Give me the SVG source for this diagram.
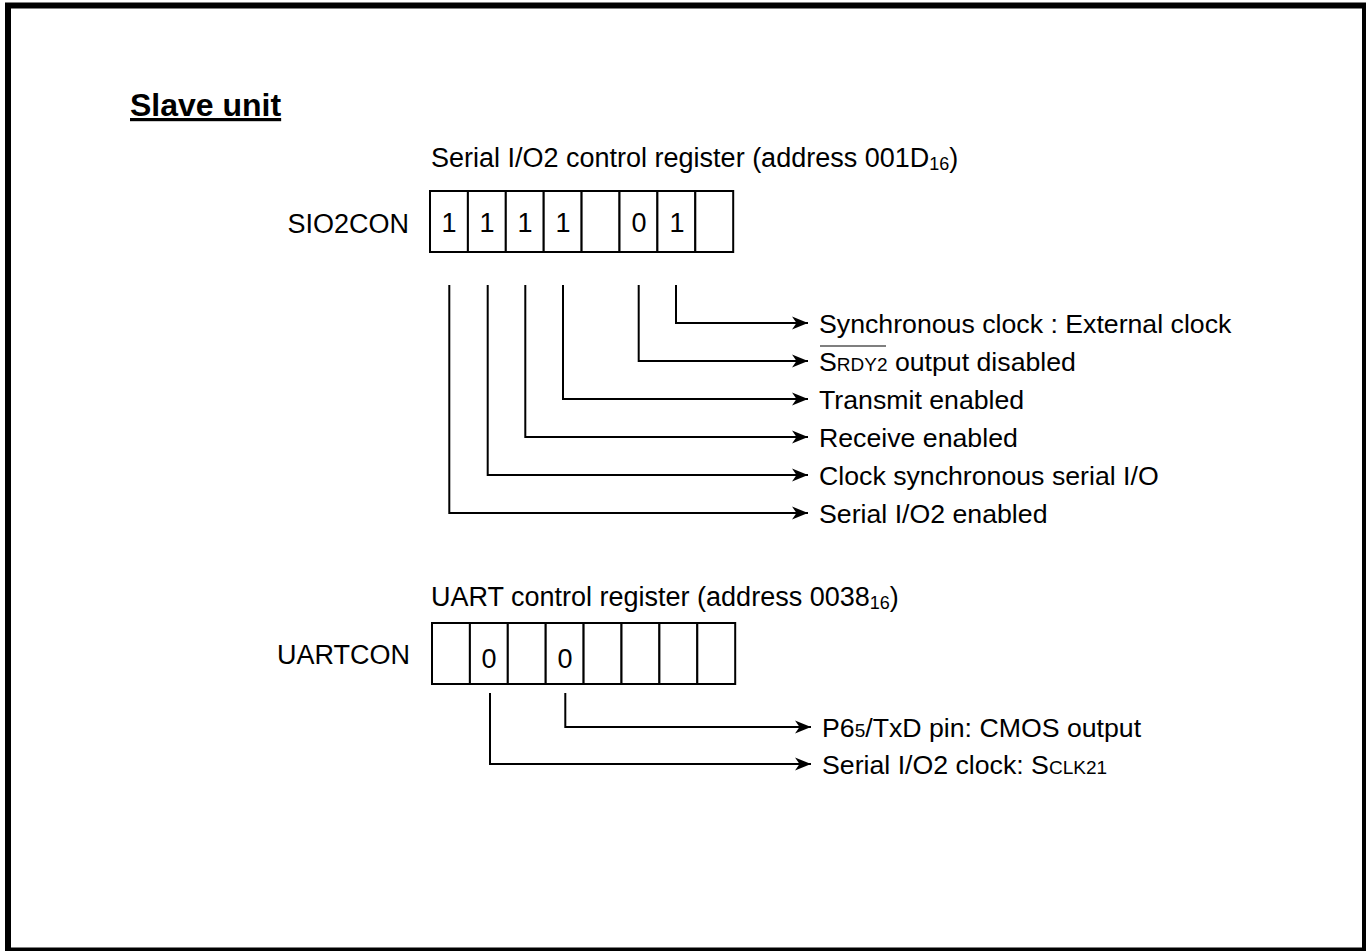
<svg xmlns="http://www.w3.org/2000/svg" width="1366" height="951" viewBox="0 0 1366 951">
<style>
text{font-family:"Liberation Sans",Arial,sans-serif;font-size:27px;fill:#000}
.lbl{font-size:26.7px}
.title{font-weight:bold;font-size:32px;text-decoration:underline}
.sub{font-size:18px}
.sc{font-size:19px}
.cell{fill:#fff;stroke:#000;stroke-width:2}
.conn{fill:none;stroke:#000;stroke-width:2}
.mid{text-anchor:middle}
</style>
<defs>
<marker id="arr" markerUnits="userSpaceOnUse" markerWidth="18" markerHeight="14" viewBox="0 0 18 14" refX="16" refY="7" orient="auto">
<path d="M0,0.5 L16,7 L0,13.5 L4.5,7 Z" fill="#000"/>
</marker>
</defs>
<rect x="0" y="0" width="1366" height="951" fill="#fff"/>
<rect x="8" y="5.5" width="1357" height="945" fill="none" stroke="#000" stroke-width="6"/>
<text id="title" class="title" x="130" y="116">Slave unit</text>

<g id="sio2con">
<text x="431" y="167">Serial I/O2 control register (address 001D<tspan class="sub" dy="3">16</tspan><tspan dy="-3">)</tspan></text>
<text x="409" y="233" text-anchor="end" font-size="24.5">SIO2CON</text>
<rect class="cell" x="430" y="191" width="37.9" height="61"/>
<rect class="cell" x="467.9" y="191" width="37.9" height="61"/>
<rect class="cell" x="505.8" y="191" width="37.9" height="61"/>
<rect class="cell" x="543.7" y="191" width="37.9" height="61"/>
<rect class="cell" x="581.6" y="191" width="37.9" height="61"/>
<rect class="cell" x="619.5" y="191" width="37.9" height="61"/>
<rect class="cell" x="657.4" y="191" width="37.9" height="61"/>
<rect class="cell" x="695.3" y="191" width="37.9" height="61"/>
<text class="mid" x="449" y="232">1</text>
<text class="mid" x="487" y="232">1</text>
<text class="mid" x="525" y="232">1</text>
<text class="mid" x="563" y="232">1</text>
<text class="mid" x="639" y="232">0</text>
<text class="mid" x="677" y="232">1</text>
</g>

<g id="sio2con-labels">
<text class="lbl" x="819" y="333">Synchronous clock : External clock</text>
<text class="lbl" x="819" y="371">S<tspan class="sc">RDY2</tspan> output disabled</text>
<line x1="820" y1="346" x2="886" y2="346" stroke="#000" stroke-width="1.2"/>
<text class="lbl" x="819" y="409">Transmit enabled</text>
<text class="lbl" x="819" y="447">Receive enabled</text>
<text class="lbl" x="819" y="485">Clock synchronous serial I/O</text>
<text class="lbl" x="819" y="523">Serial I/O2 enabled</text>
</g>

<g id="uartcon">
<text x="431" y="606">UART control register (address 0038<tspan class="sub" dy="3">16</tspan><tspan dy="-3">)</tspan></text>
<text x="410" y="664" text-anchor="end" font-size="25.5">UARTCON</text>
<rect class="cell" x="432" y="623" width="37.9" height="61"/>
<rect class="cell" x="469.9" y="623" width="37.9" height="61"/>
<rect class="cell" x="507.8" y="623" width="37.9" height="61"/>
<rect class="cell" x="545.7" y="623" width="37.9" height="61"/>
<rect class="cell" x="583.6" y="623" width="37.9" height="61"/>
<rect class="cell" x="621.5" y="623" width="37.9" height="61"/>
<rect class="cell" x="659.4" y="623" width="37.9" height="61"/>
<rect class="cell" x="697.3" y="623" width="37.9" height="61"/>
<text class="mid" x="489" y="668">0</text>
<text class="mid" x="565" y="668">0</text>
</g>

<g id="uartcon-labels">
<text class="lbl" x="822" y="737">P6<tspan class="sc">5</tspan>/TxD pin: CMOS output</text>
<text class="lbl" x="822" y="774">Serial I/O2 clock: S<tspan class="sc">CLK21</tspan></text>
</g>

<g id="connectors">
<path class="conn" marker-end="url(#arr)" d="M676,285 V323 H808"/>
<path class="conn" marker-end="url(#arr)" d="M638.7,285 V361 H808"/>
<path class="conn" marker-end="url(#arr)" d="M563,285 V399 H808"/>
<path class="conn" marker-end="url(#arr)" d="M525.3,285 V437 H808"/>
<path class="conn" marker-end="url(#arr)" d="M487.7,285 V475 H808"/>
<path class="conn" marker-end="url(#arr)" d="M449.3,285 V513 H808"/>
<path class="conn" marker-end="url(#arr)" d="M565.3,693 V727 H811"/>
<path class="conn" marker-end="url(#arr)" d="M490,693 V764 H811"/>
</g>
</svg>
